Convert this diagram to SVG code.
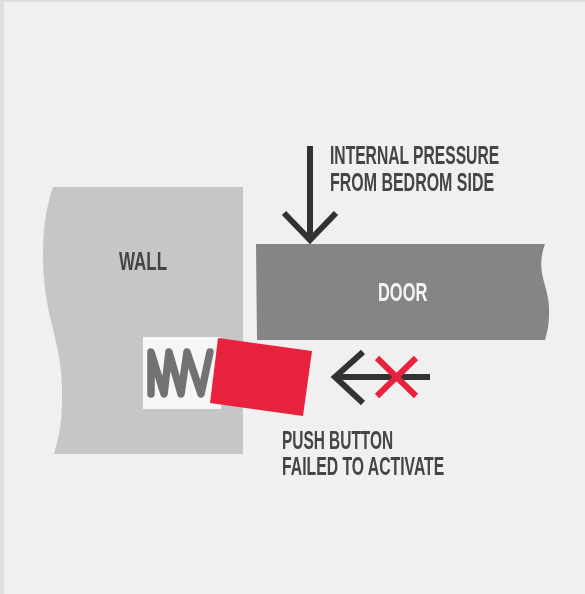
<svg xmlns="http://www.w3.org/2000/svg" width="585" height="594" viewBox="0 0 585 594">
<style>
.t{font-family:"Liberation Sans",Arial,sans-serif;font-size:25px;font-weight:700;fill:#444}
.a{fill:none;stroke:#333;stroke-width:6;stroke-linecap:butt;stroke-linejoin:miter}
.x{fill:none;stroke:#e8213c;stroke-width:6}
</style>
<defs><filter id="b" filterUnits="userSpaceOnUse" x="0" y="0" width="585" height="594"><feGaussianBlur stdDeviation="0.75"/></filter></defs>
<rect width="585" height="594" fill="#e0dedc"/>
<rect x="4" y="2" width="581" height="592" fill="#f0f0f0"/>
<g filter="url(#b)">
<g id="wall">
<path d="M53,187 H243 V454 H54 C58,440 62,425 62,400 C63,370 58,350 52,325 C47,305 43,285 43,255 C43,225 47,205 53,187Z" fill="#c6c6c6"/>
<text class="t" transform="translate(119 270) scale(.624 1)" textLength="77" lengthAdjust="spacingAndGlyphs">WALL</text>
</g>
<g id="door">
<path d="M256,244 H545 C541,255 540,265 543,278 C546,290 550,300 549,315 C549,325 547,333 545,340 H257Z" fill="#858585"/>
<text class="t" transform="translate(378 301) scale(.624 1)" textLength="79" lengthAdjust="spacingAndGlyphs" style="fill:#f4f4f4">DOOR</text>
</g>
<g id="button">
<rect x="143" y="337" width="78" height="72" fill="#f6f6f6"/>
<path d="M151,394 V352 L164,394 L169,352 L181,394 L187,352 L201,394 L210,352" fill="none" stroke="#727272" stroke-width="7.5" stroke-linecap="round" stroke-linejoin="round"/>
<polygon points="218,338 312,351 303,416 210,403" fill="#e8213c"/>
</g>
<g id="connectors">
<path class="a" d="M310,146 V241"/>
<path class="a" d="M284,213 L310,240 L336,213"/>
<path class="a" d="M430,377 H337"/>
<path class="a" d="M363,352 L335,377 L363,403"/>
<path class="x" d="M377,358 L416,396 M416,358 L377,396"/>
</g>
<g id="labels">
<text class="t" transform="translate(330 164) scale(.624 1)" textLength="271" lengthAdjust="spacingAndGlyphs">INTERNAL PRESSURE</text>
<text class="t" transform="translate(330 191) scale(.624 1)" textLength="263" lengthAdjust="spacingAndGlyphs">FROM BEDROM SIDE</text>
<text class="t" transform="translate(282 449) scale(.624 1)" textLength="178" lengthAdjust="spacingAndGlyphs">PUSH BUTTON</text>
<text class="t" transform="translate(282 475) scale(.624 1)" textLength="260" lengthAdjust="spacingAndGlyphs">FAILED TO ACTIVATE</text>
</g>
</g>
</svg>
